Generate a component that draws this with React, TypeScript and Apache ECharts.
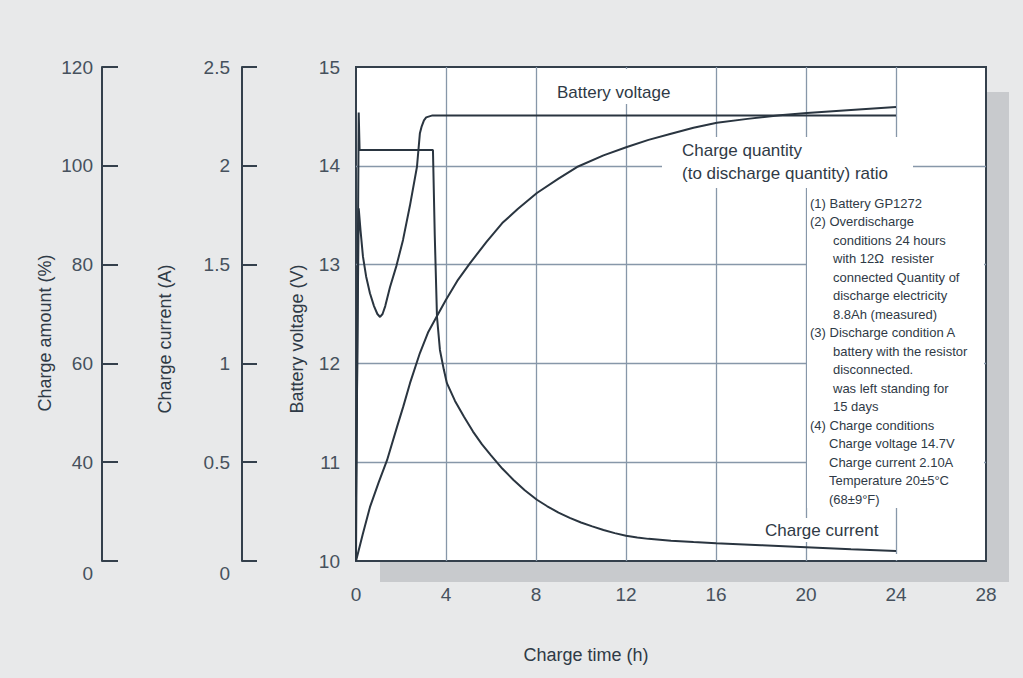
import React, { useEffect, useRef } from "react";
import * as echarts from "echarts";

// ---- data ----
const xTicks = [0, 4, 8, 12, 16, 20, 24, 28];
// charge amount axis: linear 20 % per volt-gridline, bottom tick (broken scale) labelled 0
const amountBreakValue = 20;

// Battery voltage (V)
const hoursV = [0, 0.12, 0.2, 0.31, 0.45, 0.62, 0.8, 0.95, 1.07, 1.18, 1.3, 1.51, 1.8, 2.09, 2.4, 2.71, 2.84, 2.92, 3.02, 3.12, 3.4, 24];
const voltage = [10.65, 13.57, 13.35, 13.08, 12.88, 12.71, 12.58, 12.5, 12.47, 12.5, 12.58, 12.77, 12.99, 13.25, 13.6, 13.99, 14.33, 14.4, 14.46, 14.49, 14.51, 14.51];

// Charge current (A)
const hoursI = [0, 0.12, 0.16, 3.42, 3.5, 3.6, 3.73, 3.9, 4.04, 4.4, 4.8, 5.2, 5.6, 6.0, 6.5, 7.0, 7.5, 8.04, 8.5, 9.0, 9.5, 10.0, 10.5, 11.0, 11.5, 12.0, 12.5, 13.0, 14.0, 15.0, 16.0, 18.0, 20.0, 22.0, 24.0];
const current = [0, 2.27, 2.08, 2.08, 1.65, 1.235, 1.068, 0.97, 0.9, 0.81, 0.73, 0.655, 0.59, 0.535, 0.468, 0.41, 0.358, 0.31, 0.277, 0.245, 0.218, 0.195, 0.175, 0.157, 0.141, 0.128, 0.119, 0.112, 0.103, 0.096, 0.09, 0.08, 0.07, 0.06, 0.051];

// Charge quantity (to discharge quantity) ratio, read on the charge amount axis (%)
const hoursQ = [0, 0.3, 0.62, 1.0, 1.38, 1.82, 2.1, 2.4, 2.84, 3.2, 3.6, 4.0, 4.5, 5.07, 5.8, 6.5, 7.2, 8.04, 9.0, 9.82, 11.0, 12.04, 13.0, 14.0, 15.0, 16.04, 17.4, 18.84, 20.04, 22.0, 24.0];
const charge = [20, 25.4, 30.9, 35.8, 40.4, 47.1, 51.25, 56.0, 62.1, 66.25, 69.6, 72.9, 76.7, 80.3, 84.6, 88.4, 91.3, 94.5, 97.4, 99.75, 102.1, 103.8, 105.25, 106.5, 107.7, 108.7, 109.5, 110.25, 110.7, 111.3, 111.9];

const notes: [number, string][] = [
  [0, "(1) Battery GP1272"],
  [0, "(2) Overdischarge"],
  [1, "conditions 24 hours"],
  [1, "with 12\u03a9  resister"],
  [1, "connected Quantity of"],
  [1, "discharge electricity"],
  [1, "8.8Ah (measured)"],
  [0, "(3) Discharge condition A"],
  [1, "battery with the resistor"],
  [1, "disconnected."],
  [1, "was left standing for"],
  [1, "15 days"],
  [0, "(4) Charge conditions"],
  [2, "Charge voltage 14.7V"],
  [2, "Charge current 2.10A"],
  [2, "Temperature 20\u00b15\u00b0C"],
  [2, "(68\u00b19\u00b0F)"],
];

const FONT = "'Liberation Sans', Arial, sans-serif";
const LABEL_C = "#46515d";
const TEXT_C = "#2f3a46";
const AXIS_C = "#34404c";
const GRID_C = "#8797a9";
const LINE_C = "#2a3540";

export default function App() {
  const ref = useRef<HTMLDivElement>(null);

  useEffect(() => {
    if (!ref.current) return;
    const chart = echarts.init(ref.current, undefined, { renderer: "svg" });

    const tickLabel = {
      fontSize: 19,
      color: LABEL_C,
      fontFamily: FONT,
    };

    const graphic: any[] = [
      // shadow behind plot
      { type: "rect", shape: { x: 380, y: 92, width: 629, height: 490 }, style: { fill: "#c8cacd" }, z: -1 },
      // white masks hiding gridlines under texts
      { type: "rect", shape: { x: 662, y: 137, width: 251, height: 51 }, style: { fill: "#ffffff" }, z: 1 },
      { type: "rect", shape: { x: 807, y: 188, width: 177, height: 320 }, style: { fill: "#ffffff" }, z: 1 },
      { type: "rect", shape: { x: 760, y: 518, width: 130, height: 24 }, style: { fill: "#ffffff" }, z: 1 },
      { type: "rect", shape: { x: 552, y: 69, width: 133, height: 35 }, style: { fill: "#ffffff" }, z: 1 },
      { type: "rect", shape: { x: 893, y: 554, width: 5, height: 6 }, style: { fill: "#ffffff" }, z: 1 },
      // curve labels
      { type: "text", x: 557, y: 92, style: { text: "Battery voltage", fontSize: 17, fill: TEXT_C, fontFamily: FONT, verticalAlign: "middle" }, z: 5 },
      { type: "text", x: 682, y: 150, style: { text: "Charge quantity", fontSize: 17, fill: TEXT_C, fontFamily: FONT, verticalAlign: "middle" }, z: 5 },
      { type: "text", x: 682, y: 173, style: { text: "(to discharge quantity) ratio", fontSize: 17, fill: TEXT_C, fontFamily: FONT, verticalAlign: "middle" }, z: 5 },
      { type: "text", x: 765, y: 530, style: { text: "Charge current", fontSize: 17, fill: TEXT_C, fontFamily: FONT, verticalAlign: "middle" }, z: 5 },
      // axis titles
      { type: "text", x: 45, y: 333, rotation: Math.PI / 2, style: { text: "Charge amount (%)", fontSize: 18, fill: TEXT_C, fontFamily: FONT, align: "center", verticalAlign: "middle" }, z: 5 },
      { type: "text", x: 165, y: 339, rotation: Math.PI / 2, style: { text: "Charge current (A)", fontSize: 18, fill: TEXT_C, fontFamily: FONT, align: "center", verticalAlign: "middle" }, z: 5 },
      { type: "text", x: 297, y: 339, rotation: Math.PI / 2, style: { text: "Battery voltage (V)", fontSize: 18, fill: TEXT_C, fontFamily: FONT, align: "center", verticalAlign: "middle" }, z: 5 },
      { type: "text", x: 586, y: 655, style: { text: "Charge time (h)", fontSize: 18, fill: TEXT_C, fontFamily: FONT, align: "center", verticalAlign: "middle" }, z: 5 },
    ];

    notes.forEach(([indent, t], i) => {
      const x = indent === 0 ? 810 : indent === 1 ? 833 : 829;
      graphic.push({
        type: "text",
        x,
        y: 203 + i * 18.5,
        style: { text: t, fontSize: 13, fill: TEXT_C, fontFamily: FONT, verticalAlign: "middle" },
        z: 5,
      });
    });

    const option: any = {
      animation: false,
      grid: {
        left: 356,
        top: 67,
        width: 630,
        height: 494,
        show: true,
        backgroundColor: "#ffffff",
        borderColor: AXIS_C,
        borderWidth: 2,
      },
      xAxis: {
        type: "value",
        min: 0,
        max: 28,
        interval: 4,
        axisLine: { show: false },
        axisTick: { show: false },
        axisLabel: { ...tickLabel, margin: 24, customValues: xTicks },
        splitLine: { show: true, showMinLine: false, showMaxLine: false, lineStyle: { color: GRID_C, width: 1.3 } },
      },
      yAxis: [
        {
          type: "value",
          min: 10,
          max: 15,
          interval: 1,
          position: "left",
          axisLine: { show: false },
          axisTick: { show: false },
          axisLabel: { ...tickLabel, margin: 16 },
          splitLine: { show: true, showMinLine: false, showMaxLine: false, lineStyle: { color: GRID_C, width: 1.3 } },
        },
        {
          type: "value",
          min: 0,
          max: 2.5,
          interval: 0.5,
          position: "left",
          offset: 114,
          axisLine: { show: true, lineStyle: { color: AXIS_C, width: 2 } },
          axisTick: { show: true, inside: true, length: 15, lineStyle: { color: AXIS_C, width: 2 } },
          axisLabel: {
            ...tickLabel,
            margin: 12,
            formatter: (v: number) => (v === 0 ? "{z|0}" : String(v)),
            rich: { z: { ...tickLabel, padding: [24, 0, 0, 0] } },
          },
          splitLine: { show: false },
        },
        {
          type: "value",
          min: amountBreakValue,
          max: 120,
          interval: 20,
          position: "left",
          offset: 254,
          axisLine: { show: true, lineStyle: { color: AXIS_C, width: 2 } },
          axisTick: { show: true, inside: true, length: 16, lineStyle: { color: AXIS_C, width: 2 } },
          axisLabel: {
            ...tickLabel,
            margin: 9,
            formatter: (v: number) => (v === amountBreakValue ? "{z|0}" : String(v)),
            rich: { z: { ...tickLabel, padding: [24, 0, 0, 0] } },
          },
          splitLine: { show: false },
        },
      ],
      series: [
        {
          name: "Battery voltage",
          type: "line",
          yAxisIndex: 0,
          data: hoursV.map((h, i) => [h, voltage[i]]),
          symbol: "none",
          lineStyle: { color: LINE_C, width: 2 },
          z: 3,
        },
        {
          name: "Charge current",
          type: "line",
          yAxisIndex: 1,
          data: hoursI.map((h, i) => [h, current[i]]),
          symbol: "none",
          lineStyle: { color: LINE_C, width: 2 },
          z: 3,
        },
        {
          name: "Charge quantity ratio",
          type: "line",
          yAxisIndex: 2,
          data: hoursQ.map((h, i) => [h, charge[i]]),
          symbol: "none",
          lineStyle: { color: LINE_C, width: 2 },
          z: 3,
        },
      ],
      graphic,
    };

    chart.setOption(option);
    return () => chart.dispose();
  }, []);

  return (
    <div style={{ position: "fixed", left: 0, top: 0, width: 1023, height: 678, background: "#e8e9ea" }}>
      <div ref={ref} style={{ width: 1023, height: 678 }} />
    </div>
  );
}
